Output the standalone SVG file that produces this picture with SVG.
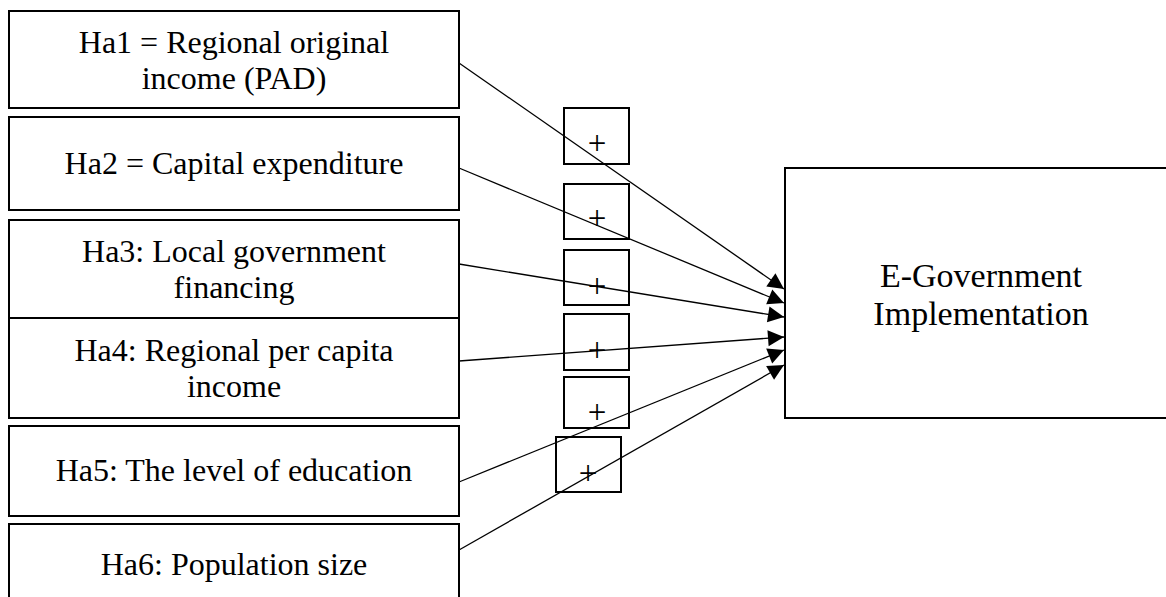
<svg xmlns="http://www.w3.org/2000/svg" width="1166" height="597" viewBox="0 0 1166 597">
<style>
.box{fill:none;stroke:#000;stroke-width:2}
.lbl{font-family:"Liberation Serif","Times New Roman",serif;font-size:32px;fill:#000;text-anchor:middle}
.big{font-size:34px}
.plus{font-family:"Liberation Serif","Times New Roman",serif;font-size:33px;fill:#000;text-anchor:middle}
.conn{stroke:#000;stroke-width:1.3;fill:none;marker-end:url(#arr)}
</style>
<defs>
<marker id="arr" markerUnits="userSpaceOnUse" markerWidth="20" markerHeight="20" refX="16" refY="8" orient="auto" overflow="visible">
<path d="M0,0 L16,8 L0,16 Z" fill="#000"/>
</marker>
</defs>
<rect width="1166" height="597" fill="#fff"/>
<g id="ha1"><rect class="box" x="9" y="11" width="450" height="97"/><text class="lbl" x="234" y="53">Ha1 = Regional original</text><text class="lbl" x="234" y="89">income (PAD)</text></g>
<g id="ha2"><rect class="box" x="9" y="117" width="450" height="93"/><text class="lbl" x="234" y="174">Ha2 = Capital expenditure</text></g>
<g id="ha3"><rect class="box" x="9" y="220" width="450" height="98"/><text class="lbl" x="234" y="262">Ha3: Local government</text><text class="lbl" x="234" y="298">financing</text></g>
<g id="ha4"><rect class="box" x="9" y="318" width="450" height="100"/><text class="lbl" x="234" y="361">Ha4: Regional per capita</text><text class="lbl" x="234" y="397">income</text></g>
<g id="ha5"><rect class="box" x="9" y="426" width="450" height="90"/><text class="lbl" x="234" y="481">Ha5: The level of education</text></g>
<g id="ha6"><rect class="box" x="9" y="524" width="450" height="82"/><text class="lbl" x="234" y="575">Ha6: Population size</text></g>
<g id="egov"><rect class="box" x="785" y="168" width="392" height="250"/><text class="lbl big" x="981" y="287">E-Government</text><text class="lbl big" x="981" y="325">Implementation</text></g>
<g id="plus1"><rect class="box" x="564" y="108" width="65" height="56"/><text class="plus" x="597" y="154">+</text></g>
<g id="plus2"><rect class="box" x="564" y="184" width="65" height="55"/><text class="plus" x="597" y="228.5">+</text></g>
<g id="plus3"><rect class="box" x="564" y="250" width="65" height="55"/><text class="plus" x="597" y="296.5">+</text></g>
<g id="plus4"><rect class="box" x="564" y="314" width="65" height="56"/><text class="plus" x="597" y="360.5">+</text></g>
<g id="plus5"><rect class="box" x="564" y="377" width="65" height="51"/><text class="plus" x="597" y="422.5">+</text></g>
<g id="plus6"><rect class="box" x="556" y="437" width="65" height="55"/><text class="plus" x="588" y="483.5">+</text></g>
<g id="connectors">
<line class="conn" x1="459" y1="63" x2="784" y2="289"/>
<line class="conn" x1="459" y1="168" x2="784" y2="303"/>
<line class="conn" x1="459" y1="264" x2="784" y2="317"/>
<line class="conn" x1="459" y1="361" x2="784" y2="337"/>
<line class="conn" x1="459" y1="482" x2="784" y2="350"/>
<line class="conn" x1="459" y1="550" x2="784" y2="365"/>
</g>
</svg>
